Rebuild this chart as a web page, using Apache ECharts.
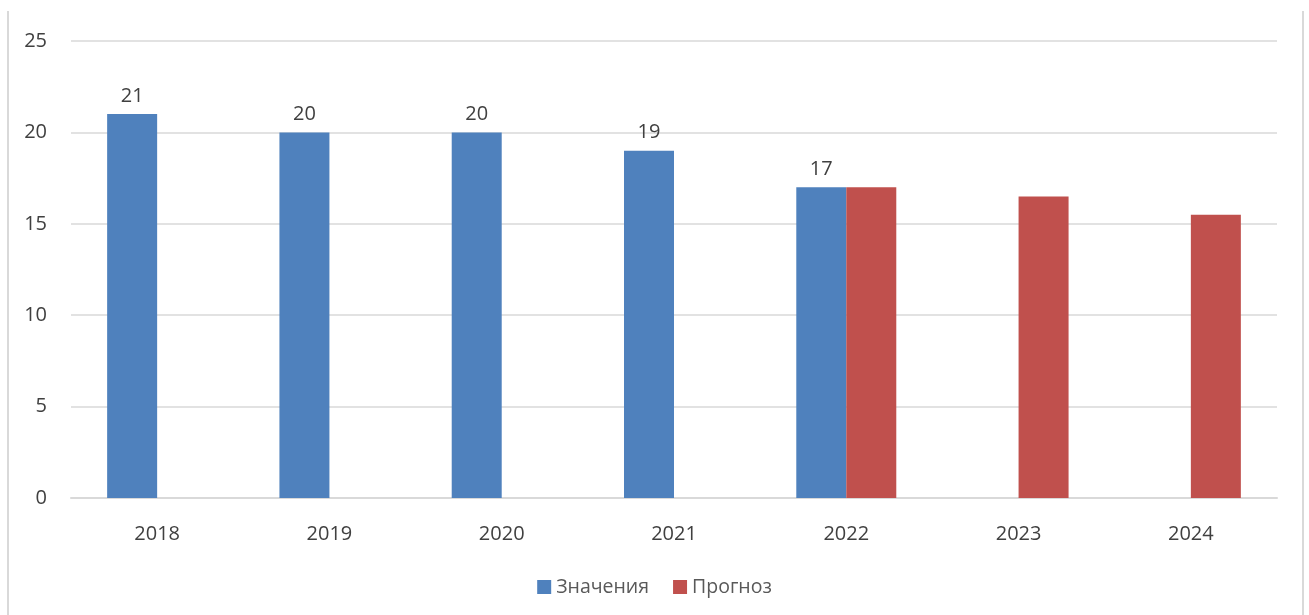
<!DOCTYPE html>
<html>
<head>
<meta charset="utf-8">
<script src="https://cdn.jsdelivr.net/npm/echarts@6/dist/echarts.min.js"></script>
<style>
  html, body { margin: 0; padding: 0; background: #fff; }
  #frame { position: absolute; left: 7px; top: 11px; width: 1297px; height: 604px;
           border-left: 2px solid #d9d9d9; border-right: 2px solid #d9d9d9; box-sizing: border-box; }
  #chart { position: absolute; left: 0; top: 0; width: 1309px; height: 615px; }
</style>
</head>
<body>
<div id="frame"></div>
<div id="chart"></div>
<script>
// годы
var years = ['2018', '2019', '2020', '2021', '2022', '2023', '2024'];
// фактические значения
var actual = [21, 20, 20, 19, 17, null, null];
// прогноз
var forecast = [null, null, null, null, 17, 16.5, 15.5];

var myChart = echarts.init(document.getElementById('chart'));
var textColor = '#404040';
var fontFamily = '"Open Sans", "Liberation Sans", sans-serif';

var options = {
    animation: false,
    textStyle: { fontFamily: fontFamily },
    grid: { left: 71, right: 32, top: 41, bottom: 117 },
    legend: {
        bottom: 13,
        left: 'center',
        itemWidth: 14,
        itemHeight: 14,
        itemGap: 24,
        icon: 'rect',
        textStyle: { fontSize: 19.5, color: '#595959', fontFamily: fontFamily },
        data: ['Значения', 'Прогноз']
    },
    xAxis: {
        type: 'category',
        data: years,
        axisTick: { show: false },
        axisLine: { lineStyle: { color: '#d9d9d9', width: 2 } },
        axisLabel: { fontSize: 20, color: textColor, margin: 26 }
    },
    yAxis: {
        type: 'value',
        min: 0,
        max: 25,
        interval: 5,
        axisLine: { show: false },
        axisTick: { show: false },
        axisLabel: { fontSize: 20, color: textColor, margin: 24 },
        splitLine: { lineStyle: { color: '#d9d9d9', width: 1.5 } }
    },
    series: [{
        name: 'Значения',
        type: 'bar',
        data: actual,
        barWidth: 50,
        barGap: '0%',
        itemStyle: { color: '#4F81BD' },
        label: { show: true, position: 'top', distance: 8, fontSize: 20, color: textColor }
    }, {
        name: 'Прогноз',
        type: 'bar',
        data: forecast,
        barWidth: 50,
        barGap: '0%',
        itemStyle: { color: '#C0504D' }
    }]
};
myChart.setOption(options);
</script>
</body>
</html>
